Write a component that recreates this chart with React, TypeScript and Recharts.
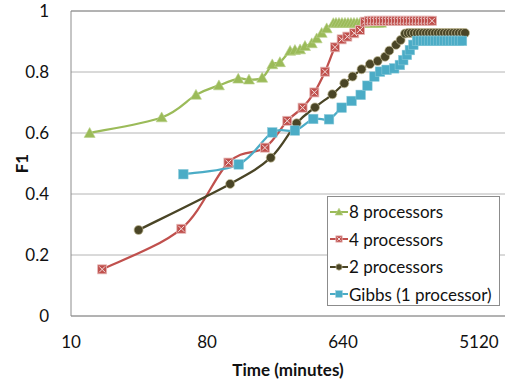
import React from "react";
import {
  Line,
  LineChart,
  CartesianGrid,
  ReferenceLine,
  XAxis,
  YAxis,
} from "recharts";

// minutes / F1
const procs8X = [13.3, 40, 67.6, 96, 129, 152, 186, 217, 244, 285, 307, 332, 358, 397, 428, 462, 499, 552, 575, 602, 630, 660, 691, 723, 757, 793, 830, 869, 910, 953, 997, 1044, 1094, 1145];
const procs8Y = [0.6, 0.651, 0.725, 0.756, 0.778, 0.775, 0.781, 0.825, 0.832, 0.869, 0.872, 0.874, 0.885, 0.894, 0.91, 0.928, 0.943, 0.96, 0.961, 0.961, 0.961, 0.961, 0.961, 0.961, 0.961, 0.961, 0.961, 0.961, 0.961, 0.961, 0.961, 0.961, 0.961, 0.961];

const procs4X = [16.1, 54, 111, 194, 273, 345, 413, 486, 566, 627, 684, 760, 830, 896, 953, 997, 1044, 1094, 1145, 1198, 1255, 1313, 1375, 1440, 1507, 1578, 1652, 1730, 1811, 1896, 1985, 2078, 2176, 2278, 2385, 2497];
const procs4Y = [0.153, 0.286, 0.503, 0.552, 0.64, 0.683, 0.733, 0.801, 0.881, 0.907, 0.916, 0.927, 0.938, 0.965, 0.968, 0.968, 0.968, 0.968, 0.968, 0.968, 0.968, 0.968, 0.968, 0.968, 0.968, 0.968, 0.968, 0.968, 0.968, 0.968, 0.968, 0.968, 0.968, 0.968, 0.968, 0.968];

const procs2X = [28.1, 114, 212, 315, 417, 544, 653, 741, 850, 967, 1088, 1218, 1299, 1440, 1545, 1652, 1730, 1811, 1896, 1985, 2078, 2176, 2278, 2385, 2497, 2614, 2737, 2865, 3000, 3140, 3288, 3442, 3604, 3773, 3950, 4136];
const procs2Y = [0.282, 0.433, 0.519, 0.632, 0.684, 0.727, 0.763, 0.785, 0.809, 0.826, 0.836, 0.85, 0.87, 0.889, 0.905, 0.926, 0.928, 0.928, 0.928, 0.928, 0.928, 0.928, 0.928, 0.928, 0.928, 0.928, 0.928, 0.928, 0.928, 0.928, 0.928, 0.928, 0.928, 0.928, 0.928, 0.928];

const gibbsX = [55.7, 130, 217, 307, 406, 517, 627, 730, 839, 929, 1034, 1127, 1248, 1400, 1527, 1608, 1700, 1780, 1877, 1985, 2078, 2176, 2278, 2385, 2497, 2614, 2737, 2865, 3000, 3140, 3288, 3442, 3604, 3773, 3950];
const gibbsY = [0.465, 0.497, 0.602, 0.608, 0.646, 0.645, 0.683, 0.705, 0.725, 0.755, 0.785, 0.801, 0.807, 0.812, 0.823, 0.839, 0.856, 0.872, 0.889, 0.902, 0.902, 0.902, 0.902, 0.902, 0.902, 0.902, 0.902, 0.902, 0.902, 0.902, 0.902, 0.902, 0.902, 0.902, 0.902];

const xTicks = [10, 80, 640, 5120];
const yTicks = [0, 0.2, 0.4, 0.6, 0.8, 1];

const zip = (xs: number[], ys: number[]) => xs.map((x, i) => ({ x, y: ys[i] }));

const FONT = "Lato, 'Liberation Sans', sans-serif";

// excel-ish smoothed line (catmull-rom through the points)
const excelCurve = (ctx: any) => {
  let pts: number[][] = [];
  return {
    areaStart() {},
    areaEnd() {},
    lineStart() {
      pts = [];
    },
    point(x: number, y: number) {
      pts.push([+x, +y]);
    },
    lineEnd() {
      if (!pts.length) return;
      ctx.moveTo(pts[0][0], pts[0][1]);
      for (let i = 0; i < pts.length - 1; i++) {
        const p0 = pts[Math.max(i - 1, 0)];
        const p1 = pts[i];
        const p2 = pts[i + 1];
        const p3 = pts[Math.min(i + 2, pts.length - 1)];
        ctx.bezierCurveTo(
          p1[0] + (p2[0] - p0[0]) / 6,
          p1[1] + (p2[1] - p0[1]) / 6,
          p2[0] - (p3[0] - p1[0]) / 6,
          p2[1] - (p3[1] - p1[1]) / 6,
          p2[0],
          p2[1]
        );
      }
    },
  };
};

type Kind = "tri" | "xsq" | "dot" | "sq";

function Marker({ kind, cx, cy, s = 1 }: { kind: Kind; cx: number; cy: number; s?: number }) {
  if (kind === "tri") {
    const r = 5.5 * s;
    return (
      <path
        d={`M${cx},${cy - r} L${cx + r},${cy + r * 0.8} L${cx - r},${cy + r * 0.8} Z`}
        fill="#9bbb59"
        stroke="#b9d08a"
        strokeWidth={0.6}
      />
    );
  }
  if (kind === "xsq") {
    const r = 4.5 * s;
    return (
      <g>
        <rect x={cx - r} y={cy - r} width={2 * r} height={2 * r} fill="#c0504d" stroke="#e6b9b8" strokeWidth={0.8} />
        <path
          d={`M${cx - r + 1.5},${cy - r + 1.5} L${cx + r - 1.5},${cy + r - 1.5} M${cx + r - 1.5},${cy - r + 1.5} L${cx - r + 1.5},${cy + r - 1.5}`}
          stroke="#f2dcdb"
          strokeWidth={1}
        />
      </g>
    );
  }
  if (kind === "dot") {
    return <circle cx={cx} cy={cy} r={4.5 * s} fill="#4a4526" stroke="#c4bd97" strokeWidth={0.7} />;
  }
  const r = 4.8 * s;
  return <rect x={cx - r} y={cy - r} width={2 * r} height={2 * r} fill="#4bacc6" stroke="#92cddc" strokeWidth={0.5} />;
}

const dotFor = (kind: Kind) => (props: any) => (
  <Marker key={`${kind}-${props.index}`} kind={kind} cx={props.cx} cy={props.cy} />
);

const legendItems: { label: string; color: string; kind: Kind }[] = [
  { label: "8 processors", color: "#9bbb59", kind: "tri" },
  { label: "4 processors", color: "#c0504d", kind: "xsq" },
  { label: "2 processors", color: "#4a4526", kind: "dot" },
  { label: "Gibbs (1 processor)", color: "#4bacc6", kind: "sq" },
];

function LegendBox() {
  return (
    <div
      style={{
        position: "absolute",
        left: 327,
        top: 196,
        width: 173,
        height: 110,
        border: "1px solid #8c8c8c",
        background: "#fff",
        boxSizing: "border-box",
        paddingTop: 1,
        fontFamily: FONT,
        fontSize: 17,
        color: "#111",
      }}
    >
      {legendItems.map((it) => (
        <div key={it.label} style={{ height: 27.5, display: "flex", alignItems: "center" }}>
          <svg width={20} height={14} style={{ marginLeft: 1 }}>
            <line x1={1} y1={7} x2={19} y2={7} stroke={it.color} strokeWidth={2} />
            <Marker kind={it.kind} cx={10} cy={7} s={0.7} />
          </svg>
          <span style={{ whiteSpace: "nowrap" }}>{it.label}</span>
        </div>
      ))}
    </div>
  );
}

export default function App() {
  const tick = { fill: "#111", fontSize: 17, fontFamily: FONT };
  return (
    <div style={{ position: "absolute", left: 0, top: 0, width: 505, height: 379, background: "#fff" }}>
      <LineChart width={505} height={379} margin={{ top: 11, right: 0, bottom: 0, left: 0 }}>
        <CartesianGrid vertical={false} stroke="#b4b4b4" strokeWidth={1} />
        <ReferenceLine y={1} stroke="#8c8c8c" strokeWidth={1.2} />
        <XAxis
          dataKey="x"
          type="number"
          scale="log"
          domain={[10, 7622]}
          allowDataOverflow
          ticks={xTicks}
          tick={tick}
          tickLine={false}
          tickMargin={14}
          height={63}
          stroke="#8c8c8c"
          label={{
            value: "Time (minutes)",
            position: "insideBottom",
            offset: 3,
            style: { fontFamily: FONT, fontSize: 17, fontWeight: 700, fill: "#111" },
          }}
        />
        <YAxis
          type="number"
          domain={[0, 1]}
          ticks={yTicks}
          tick={tick}
          tickFormatter={(v: number) => String(v)}
          tickLine={false}
          tickMargin={16}
          width={71}
          stroke="#8c8c8c"
          label={{
            value: "F1",
            angle: -90,
            position: "insideLeft",
            offset: 22,
            style: { fontFamily: FONT, fontSize: 17, fontWeight: 700, fill: "#111", textAnchor: "middle" },
          }}
        />
        <Line
          data={zip(procs8X, procs8Y)}
          dataKey="y"
          name="8 processors"
          type={excelCurve as any}
          stroke="#9bbb59"
          strokeWidth={2.25}
          dot={dotFor("tri")}
          activeDot={false}
          isAnimationActive={false}
        />
        <Line
          data={zip(procs4X, procs4Y)}
          dataKey="y"
          name="4 processors"
          type={excelCurve as any}
          stroke="#c0504d"
          strokeWidth={2.25}
          dot={dotFor("xsq")}
          activeDot={false}
          isAnimationActive={false}
        />
        <Line
          data={zip(procs2X, procs2Y)}
          dataKey="y"
          name="2 processors"
          type={excelCurve as any}
          stroke="#4a4526"
          strokeWidth={2.25}
          dot={dotFor("dot")}
          activeDot={false}
          isAnimationActive={false}
        />
        <Line
          data={zip(gibbsX, gibbsY)}
          dataKey="y"
          name="Gibbs (1 processor)"
          type={excelCurve as any}
          stroke="#4bacc6"
          strokeWidth={2.25}
          dot={dotFor("sq")}
          activeDot={false}
          isAnimationActive={false}
        />
      </LineChart>
      <LegendBox />
    </div>
  );
}
